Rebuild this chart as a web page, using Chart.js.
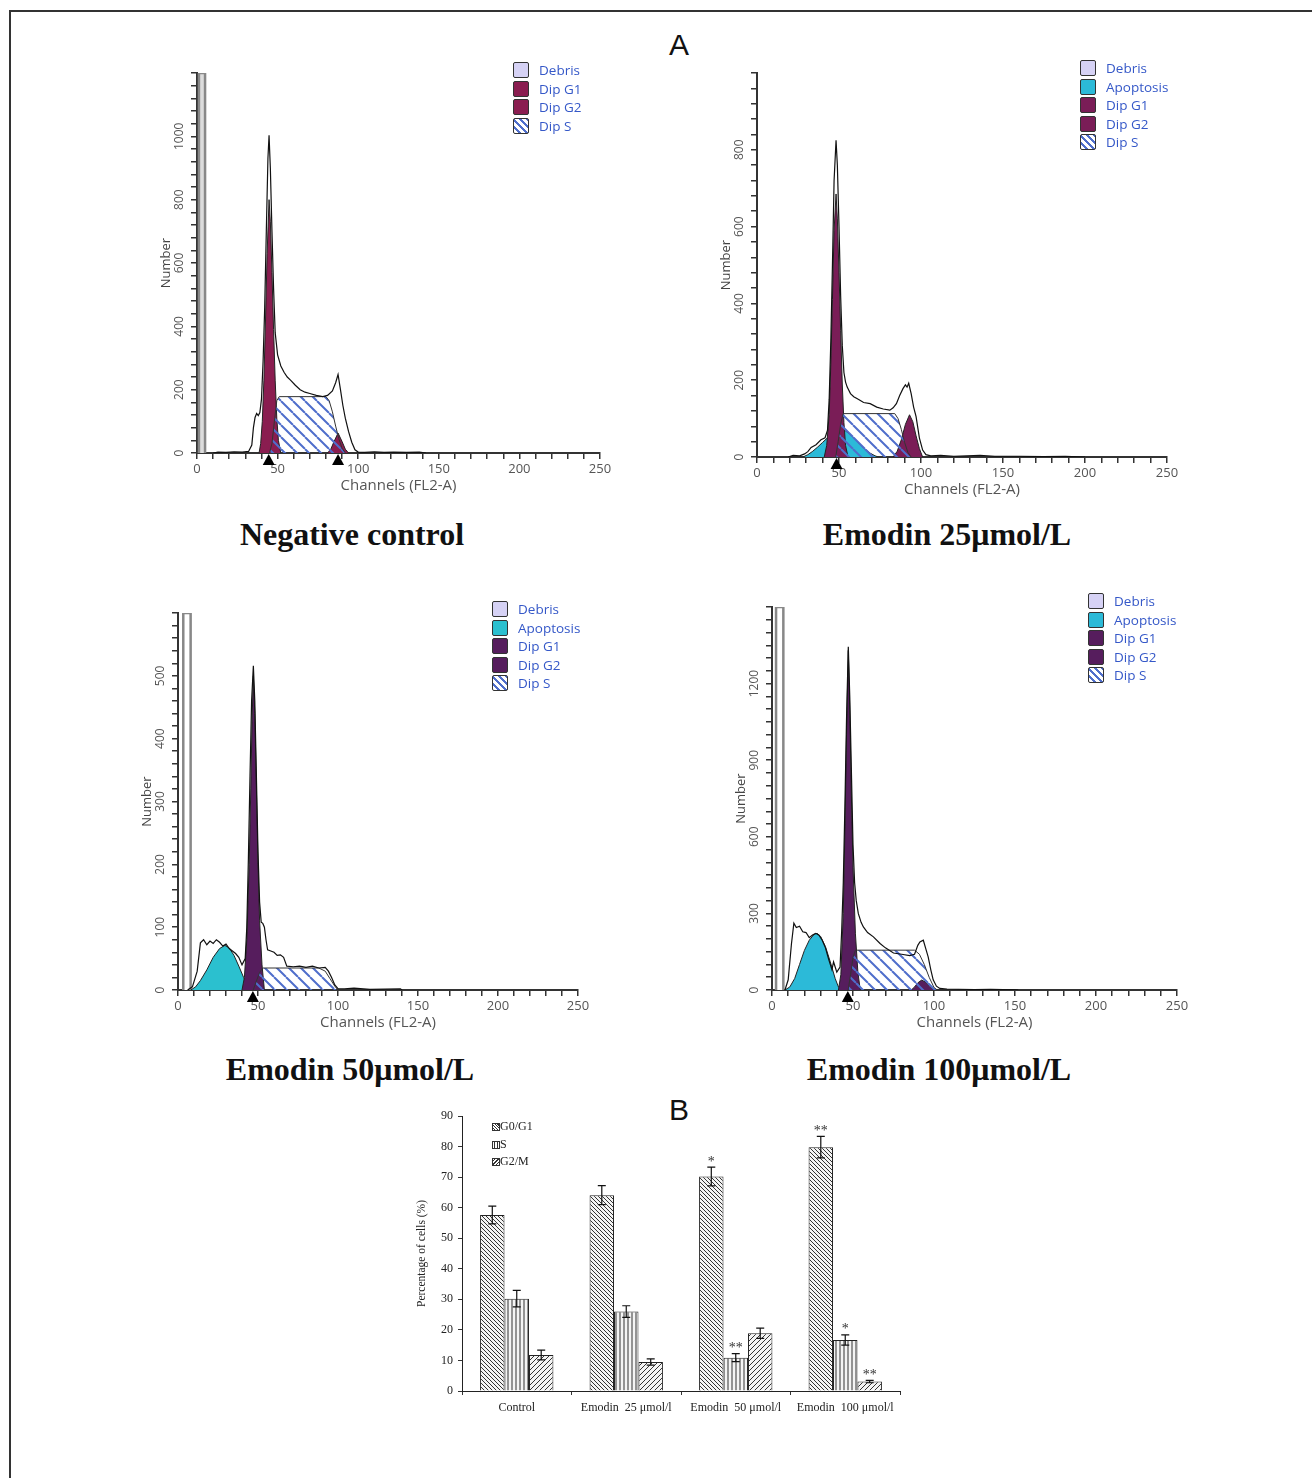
<!DOCTYPE html>
<html>
<head>
<meta charset="utf-8">
<script src="https://cdn.jsdelivr.net/npm/chart.js@4.4.0/dist/chart.umd.min.js"></script>
<style>
    body { margin: 0; background: #fff; }
    #page { position: relative; width: 1312px; height: 1478px; overflow: hidden; background: #fff; }
    .frame { position: absolute; left: 9px; top: 10px; width: 1400px; height: 1600px; border-top: 2px solid #333; border-left: 2px solid #333; }
    canvas { position: absolute; }
    .panel-title { position: absolute; width: 400px; text-align: center; line-height: 34px; font-family: "Liberation Serif", "Times New Roman", serif; font-weight: bold; font-size: 32px; color: #111; }
    .letter { position: absolute; width: 40px; text-align: center; line-height: 34px; font-family: "Liberation Sans", Arial, sans-serif; font-size: 30px; color: #111; }
    .legend { position: absolute; font-family: "Open Sans", sans-serif; font-size: 13.5px; color: #3558c8; }
    .legend .row { position: relative; height: 18.5px; line-height: 18.5px; }
    .legend .box { position: absolute; left: 0; top: 1px; width: 16px; height: 16px; border: 1.5px solid #333; border-radius: 2px; box-sizing: border-box; }
    .legend .lbl { position: absolute; left: 26px; top: 0; white-space: nowrap; }
    .bar-legend { position: absolute; left: 492px; top: 1119px; font-family: "Liberation Serif", serif; font-size: 12px; color: #222; }
    .bar-legend .row { position: relative; height: 17.5px; line-height: 15px; }
    .bar-legend .box { position: absolute; left: 0; top: 4px; width: 6px; height: 6px; border: 1px solid #333; }
    .bar-legend .lbl { position: absolute; left: 8px; top: 0; white-space: nowrap; }
</style>
</head>
<body>
<div id="page">
    <div class="frame"></div>
    <div class="letter" style="left:659px;top:28px;">A</div>
    <div class="letter" style="left:659px;top:1093px;">B</div>

    <canvas id="ctrlChart"></canvas>
    <canvas id="e25Chart"></canvas>
    <canvas id="e50Chart"></canvas>
    <canvas id="e100Chart"></canvas>
    <canvas id="phaseChart"></canvas>

    <div class="panel-title" style="left:152px;top:517px;">Negative control</div>
    <div class="panel-title" style="left:747px;top:517px;">Emodin 25μmol/L</div>
    <div class="panel-title" style="left:150px;top:1052px;">Emodin 50μmol/L</div>
    <div class="panel-title" style="left:739px;top:1052px;">Emodin 100μmol/L</div>

    <div class="legend" id="ctrlLegend" style="left:513px;top:61px;"></div>
    <div class="legend" id="e25Legend" style="left:1080px;top:59px;"></div>
    <div class="legend" id="e50Legend" style="left:492px;top:600px;"></div>
    <div class="legend" id="e100Legend" style="left:1088px;top:592px;"></div>

    <div class="bar-legend">
        <div class="row"><span class="box" style="background:repeating-linear-gradient(45deg,#fff 0 1px,#333 1px 2px);"></span><span class="lbl">G0/G1</span></div>
        <div class="row"><span class="box" style="background:repeating-linear-gradient(90deg,#fff 0 1.5px,#333 1.5px 2.5px);"></span><span class="lbl">S</span></div>
        <div class="row"><span class="box" style="background:repeating-linear-gradient(-45deg,#fff 0 1.5px,#333 1.5px 2.5px);"></span><span class="lbl">G2/M</span></div>
    </div>
</div>

<script>
// ---------- A: гистограммы (канал, число клеток) ----------
const ctrlOutline = [[10,0],[13,3],[18,2],[23,4],[28,3],[32,5],[34,25],[35,80],[36,112],[37,125],[38,118],[39,128],[40,170],[41,290],[42,460],[43,700],[44,930],[44.7,1003],[45.5,900],[46.5,700],[47.5,520],[48.5,380],[50,310],[52,275],[54,255],[56,240],[58,230],[61,214],[64,200],[67,192],[70,188],[74,182],[78,178],[81,182],[84,196],[86,222],[87.5,248],[89,200],[90.5,150],[92,110],[94,68],[96,34],[98,10],[100,3],[104,2],[110,4],[116,2],[122,3],[130,2],[138,3],[142,0]];
const ctrlG1 = [[38.5,0],[39.5,30],[40.5,100],[41.5,230],[42.5,420],[43.5,630],[44.7,800],[45.5,730],[46.5,570],[47.5,390],[48.5,230],[49.5,110],[50.5,40],[52,0]];
const ctrlS = [[45,0],[46.5,30],[48,100],[49.5,165],[51,178],[80,178],[82,165],[84,130],[86,85],[88,45],[90,15],[92,0]];
const ctrlG2 = [[81,0],[83,12],[85,36],[87.5,63],[90,36],[92,12],[94,0]];
const ctrlDebris = [[1.2,0],[1.2,1200],[5,1200],[5,0]];
const ctrlMarkers = [44.5, 87.5];
const ctrlYLabels = [0, 200, 400, 600, 800, 1000];

const e25Outline = [[19,0],[22,4],[26,3],[29,8],[31,14],[33,25],[36,32],[39,45],[41.5,50],[43,70],[44,150],[45,300],[46,500],[47,720],[48.2,825],[49,760],[50,600],[51,420],[52,290],[53,220],[54,195],[55,182],[57,165],[59,157],[62,150],[65,142],[69,139],[73,130],[77,125],[81,122],[83,128],[85,139],[87,160],[89,178],[90.5,188],[91.5,182],[92.5,192],[94,165],[95.5,130],[97,105],[99,50],[101,18],[103,6],[106,3],[112,4],[120,2],[128,3],[136,4],[145,2],[160,2],[175,1],[188,2],[200,0]];
const e25G1 = [[41,0],[42.5,30],[44,110],[45,240],[46,410],[47,590],[48.2,685],[49,620],[50,480],[51,330],[52,190],[53,90],[54,30],[55.5,0]];
const e25Apop = [[28,0],[31,6],[34,15],[37,26],[40,38],[43,50],[46,60],[49,68],[51.5,72],[54,68],[57,58],[60,46],[63,32],[66,20],[69,10],[72,3],[74,0]];
const e25S = [[48,0],[49.5,40],[51,85],[52.5,113],[84,113],[86,100],[88,72],[90,38],[92,12],[94,0]];
const e25G2 = [[83,0],[85.5,15],[88,45],[90.5,85],[93,110],[95,92],[97,55],[99,22],[101,0]];
const e25Markers = [48.5];
const e25YLabels = [0, 200, 400, 600, 800];

const e50Outline = [[6,0],[9,5],[12,30],[14,75],[16,80],[18,72],[20,78],[22,74],[24,80],[26,76],[28,70],[30,73],[32,66],[34,62],[36,58],[38,52],[40,40],[42,50],[43,100],[44,210],[45,340],[46,460],[47.1,516],[48,460],[49,340],[50,220],[51,140],[52,108],[53,106],[54,100],[55,80],[56,64],[58,62],[60,60],[62,55],[64,56],[66,52],[68,38],[72,37],[76,38],[80,36],[84,38],[88,35],[92,36],[94,30],[96,20],[98,8],[100,2],[104,2],[110,3],[120,1],[139,2],[140,0]];
const e50G1 = [[40,0],[41.5,20],[43,80],[44.5,200],[45.5,320],[46.3,430],[47.1,500],[48,440],[49,320],[50,200],[51,110],[52.5,40],[54,0]];
const e50Apop = [[8,0],[11,5],[14,15],[18,32],[22,52],[26,66],[29.3,71],[32,67],[35,55],[38,38],[41,20],[44,7],[47,0]];
const e50S = [[47,0],[49,14],[51,28],[53,35],[88,35],[92,30],[95,18],[98,6],[100,0]];
const e50Debris = [[3.3,0],[3.3,600],[7.9,600],[7.9,0]];
const e50Markers = [46.8];
const e50YLabels = [0, 100, 200, 300, 400, 500];

const e100Outline = [[8,0],[10,40],[12,180],[13.5,262],[15,245],[17,250],[19,228],[21,225],[23,205],[25,215],[27,222],[29,215],[31,195],[33,165],[35,120],[37,80],[38,110],[39,90],[40,70],[42,90],[43,230],[44,420],[45,720],[46,1060],[47.1,1344],[48,1150],[49,860],[50,570],[51,420],[52,350],[53.3,299],[55,265],[56.4,247],[59,225],[62.6,208],[66.7,182],[70,165],[75,145],[80,140],[85,135],[88,140],[90,175],[91.3,188],[93.4,195],[95,160],[96.4,130],[98,80],[99.5,40],[101.5,15],[103.6,6],[108,4],[115,3],[125,2],[135,3],[150,1],[152,0]];
const e100G1 = [[41,0],[42.5,60],[44,300],[45,620],[46,1000],[47.1,1330],[48,1100],[49,760],[50,480],[51.5,220],[53,70],[54.5,0]];
const e100Apop = [[8,0],[11,12],[14,45],[17,100],[20,155],[23,195],[26,218],[27.8,222],[30,210],[33,170],[36,110],[39,45],[41,12],[43,0]];
const e100S = [[47,0],[48.5,60],[50,128],[51.5,156],[88,156],[91,140],[94,100],[97,50],[100,10],[102,0]];
const e100G2 = [[86,0],[88,12],[90,28],[92.4,39],[95,30],[97.5,14],[100,0]];
const e100Debris = [[2.5,0],[2.5,1500],[7,1500],[7,0]];
const e100Markers = [46.8];
const e100YLabels = [0, 300, 600, 900, 1200];

// ---------- B: фазы клеточного цикла, % ----------
const phaseGroups = ['Control', 'Emodin  25 μmol/l', 'Emodin  50 μmol/l', 'Emodin  100 μmol/l'];
const g0g1 = [57.6, 64.1, 70.2, 79.8];
const g0g1Err = [2.9, 3.1, 3.1, 3.5];
const g0g1Stars = ['', '', '*', '**'];
const sPhase = [30.2, 26.0, 10.9, 16.7];
const sPhaseErr = [2.7, 1.9, 1.3, 1.7];
const sPhaseStars = ['', '', '**', '*'];
const g2m = [11.8, 9.5, 18.9, 3.1];
const g2mErr = [1.6, 1.0, 1.7, 0.4];
const g2mStars = ['', '', '', '**'];

const DEBRIS = '#d6d2f5';
const APOP = '#2cbad8';
const HATCH_BLUE = '#4f6ecb';

// Штриховка как CanvasPattern
function makePattern(kind, color, size, lineWidth, bg) {
    const c = document.createElement('canvas');
    c.width = size;
    c.height = size;
    const g = c.getContext('2d');
    if (bg) {
        g.fillStyle = bg;
        g.fillRect(0, 0, size, size);
    }
    g.strokeStyle = color;
    g.lineWidth = lineWidth;
    g.beginPath();
    if (kind === 'vertical') {
        g.moveTo(size / 2, 0);
        g.lineTo(size / 2, size);
    } else {
        for (let k = -1; k <= 1; k++) {
            if (kind === 'back') {
                g.moveTo(k * size, 0);
                g.lineTo(k * size + size, size);
            } else {
                g.moveTo(k * size, size);
                g.lineTo(k * size + size, 0);
            }
        }
    }
    g.stroke();
    return g.createPattern(c, 'repeat');
}

// Легенды гистограмм (HTML)
function renderLegend(id, items) {
    document.getElementById(id).innerHTML = items.map(item => `
        <div class="row"><span class="box" style="background:${item.bg};"></span><span class="lbl">${item.label}</span></div>
    `).join('');
}

const sBoxCss = `repeating-linear-gradient(45deg,#fff 0 3px,${HATCH_BLUE} 3px 5px)`;
renderLegend('ctrlLegend', [
    { label: 'Debris', bg: DEBRIS },
    { label: 'Dip G1', bg: '#8a1d50' },
    { label: 'Dip G2', bg: '#8a1d50' },
    { label: 'Dip S', bg: sBoxCss }
]);
renderLegend('e25Legend', [
    { label: 'Debris', bg: DEBRIS },
    { label: 'Apoptosis', bg: APOP },
    { label: 'Dip G1', bg: '#7a1d57' },
    { label: 'Dip G2', bg: '#7a1d57' },
    { label: 'Dip S', bg: sBoxCss }
]);
renderLegend('e50Legend', [
    { label: 'Debris', bg: DEBRIS },
    { label: 'Apoptosis', bg: '#2bc0cf' },
    { label: 'Dip G1', bg: '#561d5d' },
    { label: 'Dip G2', bg: '#561d5d' },
    { label: 'Dip S', bg: sBoxCss }
]);
renderLegend('e100Legend', [
    { label: 'Debris', bg: DEBRIS },
    { label: 'Apoptosis', bg: APOP },
    { label: 'Dip G1', bg: '#561d5d' },
    { label: 'Dip G2', bg: '#561d5d' },
    { label: 'Dip S', bg: sBoxCss }
]);

// Повёрнутые подписи оси Y, заголовки осей и маркеры пиков
const flowText = {
    id: 'flowText',
    afterDraw(chart, args, opts) {
        const { ctx, chartArea } = chart;
        const x = chart.scales.x;
        const y = chart.scales.y;
        ctx.save();
        ctx.fillStyle = '#555';
        ctx.textAlign = 'center';
        ctx.textBaseline = 'middle';
        ctx.font = '12px "Open Sans"';
        opts.yLabels.forEach(v => {
            ctx.save();
            ctx.translate(chartArea.left - 17, y.getPixelForValue(v));
            ctx.rotate(-Math.PI / 2);
            ctx.fillText(String(v), 0, 0);
            ctx.restore();
        });
        ctx.font = '13px "Open Sans"';
        ctx.fillStyle = '#444';
        ctx.save();
        ctx.translate(chartArea.left - 31, (chartArea.top + chartArea.bottom) / 2);
        ctx.rotate(-Math.PI / 2);
        ctx.fillText('Number', 0, 0);
        ctx.restore();
        ctx.font = '15px "Open Sans"';
        ctx.fillStyle = '#555';
        ctx.fillText('Channels (FL2-A)', x.getPixelForValue(125), chartArea.bottom + 33);
        // треугольники-маркеры пиков
        ctx.fillStyle = '#000';
        opts.markers.forEach(ch => {
            const px = x.getPixelForValue(ch);
            ctx.beginPath();
            ctx.moveTo(px, chartArea.bottom + 1);
            ctx.lineTo(px - 6, chartArea.bottom + 12);
            ctx.lineTo(px + 6, chartArea.bottom + 12);
            ctx.closePath();
            ctx.fill();
        });
        ctx.restore();
    }
};

function areaSet(points, fill, order, extra) {
    return Object.assign({
        data: points.map(p => ({ x: p[0], y: p[1] })),
        backgroundColor: fill,
        borderColor: '#222',
        borderWidth: 1,
        fill: 'origin',
        pointRadius: 0,
        tension: 0,
        order: order
    }, extra || {});
}

// Гистограмма ДНК: положение области графика задаётся явно
function flowChart(id, area, yMax, yStep, datasets, yLabels, markers) {
    const padTop = 20, padRight = 20, yWidth = 60, xHeight = 50;
    const canvas = document.getElementById(id);
    canvas.style.left = (area.l - yWidth) + 'px';
    canvas.style.top = (area.t - padTop) + 'px';
    canvas.width = yWidth + (area.r - area.l) + padRight;
    canvas.height = padTop + (area.b - area.t) + xHeight;

    return new Chart(canvas.getContext('2d'), {
        type: 'line',
        data: { datasets: datasets },
        options: {
            responsive: false,
            animation: false,
            layout: { padding: { top: padTop, right: padRight, left: 0, bottom: 0 } },
            plugins: {
                legend: { display: false },
                tooltip: { enabled: false },
                flowText: { yLabels: yLabels, markers: markers }
            },
            scales: {
                x: {
                    type: 'linear', min: 0, max: 250,
                    afterFit: s => { s.height = xHeight; },
                    ticks: {
                        stepSize: 10, autoSkip: false, maxRotation: 0, minRotation: 0,
                        color: '#555', padding: 2,
                        font: { family: 'Open Sans', size: 13 },
                        callback: v => (v % 50 === 0 ? v : '')
                    },
                    grid: { drawOnChartArea: false, tickLength: 6, color: '#333', lineWidth: 1.5 },
                    border: { color: '#333', width: 2 }
                },
                y: {
                    min: 0, max: yMax,
                    afterFit: s => { s.width = yWidth; },
                    ticks: { display: false, stepSize: yStep },
                    grid: { drawOnChartArea: false, tickLength: 6, color: '#333', lineWidth: 1.5 },
                    border: { color: '#333', width: 2 }
                }
            }
        },
        plugins: [flowText]
    });
}

const sHatch = makePattern('back', HATCH_BLUE, 12, 2, null);
const outlineStyle = { backgroundColor: 'transparent', borderColor: '#111', borderWidth: 1.2, fill: false };

flowChart('ctrlChart', { l: 197, t: 73, r: 600, b: 453 }, 1200, 40, [
    areaSet(ctrlOutline, null, 0, outlineStyle),
    areaSet(ctrlS, sHatch, 1, { borderColor: '#333' }),
    areaSet(ctrlG1, '#8a1d50', 2),
    areaSet(ctrlG2, '#8a1d50', 3),
    areaSet(ctrlDebris, '#dcdcdc', 5, { borderColor: '#888', borderWidth: 2.5 })
], ctrlYLabels, ctrlMarkers);

flowChart('e25Chart', { l: 757, t: 73, r: 1167, b: 457 }, 1000, 40, [
    areaSet(e25Outline, null, 0, outlineStyle),
    areaSet(e25S, sHatch, 1, { borderColor: '#333' }),
    areaSet(e25G1, '#7a1d57', 2),
    areaSet(e25G2, '#7a1d57', 3),
    areaSet(e25Apop, APOP, 4)
], e25YLabels, e25Markers);

flowChart('e50Chart', { l: 178, t: 613, r: 578, b: 990 }, 600, 20, [
    areaSet(e50Outline, null, 0, outlineStyle),
    areaSet(e50S, sHatch, 1, { borderColor: '#333' }),
    areaSet(e50G1, '#561d5d', 2),
    areaSet(e50Apop, '#2bc0cf', 4),
    areaSet(e50Debris, '#fff', 5, { borderColor: '#888', borderWidth: 2.5 })
], e50YLabels, e50Markers);

flowChart('e100Chart', { l: 772, t: 607, r: 1177, b: 990 }, 1500, 50, [
    areaSet(e100Outline, null, 0, outlineStyle),
    areaSet(e100S, sHatch, 1, { borderColor: '#333' }),
    areaSet(e100G1, '#561d5d', 2),
    areaSet(e100G2, '#561d5d', 3),
    areaSet(e100Apop, APOP, 4),
    areaSet(e100Debris, '#fff', 5, { borderColor: '#888', borderWidth: 2.5 })
], e100YLabels, e100Markers);

// Планки погрешностей и звёздочки значимости
const errorBars = {
    id: 'errorBars',
    afterDatasetsDraw(chart) {
        const { ctx } = chart;
        const y = chart.scales.y;
        ctx.save();
        ctx.strokeStyle = '#111';
        ctx.lineWidth = 1.2;
        ctx.fillStyle = '#333';
        ctx.font = '14px "Liberation Serif"';
        ctx.textAlign = 'center';
        ctx.textBaseline = 'bottom';
        chart.data.datasets.forEach((ds, di) => {
            chart.getDatasetMeta(di).data.forEach((bar, i) => {
                const top = y.getPixelForValue(ds.data[i] + ds.errors[i]);
                const bot = y.getPixelForValue(ds.data[i] - ds.errors[i]);
                ctx.beginPath();
                ctx.moveTo(bar.x, top);
                ctx.lineTo(bar.x, bot);
                ctx.moveTo(bar.x - 4, top);
                ctx.lineTo(bar.x + 4, top);
                ctx.moveTo(bar.x - 4, bot);
                ctx.lineTo(bar.x + 4, bot);
                ctx.stroke();
                if (ds.stars[i]) {
                    ctx.fillText(ds.stars[i], bar.x, top + 2);
                }
            });
        });
        ctx.restore();
    }
};

// Подпись оси Y для диаграммы B
const phaseTitle = {
    id: 'phaseTitle',
    afterDraw(chart) {
        const { ctx, chartArea } = chart;
        ctx.save();
        ctx.fillStyle = '#222';
        ctx.font = '11.5px "Liberation Serif"';
        ctx.textAlign = 'center';
        ctx.textBaseline = 'middle';
        ctx.translate(chartArea.left - 40, (chartArea.top + chartArea.bottom) / 2);
        ctx.rotate(-Math.PI / 2);
        ctx.fillText('Percentage of cells (%)', 0, 0);
        ctx.restore();
    }
};

(function renderPhaseChart() {
    const area = { l: 462, t: 1116, r: 900, b: 1391 };
    const padTop = 16, padRight = 20, yWidth = 72, xHeight = 40;
    const canvas = document.getElementById('phaseChart');
    canvas.style.left = (area.l - yWidth) + 'px';
    canvas.style.top = (area.t - padTop) + 'px';
    canvas.width = yWidth + (area.r - area.l) + padRight;
    canvas.height = padTop + (area.b - area.t) + xHeight;

    const barCommon = { borderColor: '#222', borderWidth: 1, barPercentage: 1, categoryPercentage: 0.67 };
    new Chart(canvas.getContext('2d'), {
        type: 'bar',
        data: {
            labels: phaseGroups,
            datasets: [
                Object.assign({ label: 'G0/G1', data: g0g1, errors: g0g1Err, stars: g0g1Stars,
                    backgroundColor: makePattern('back', '#333', 4, 1, '#f4f4f4') }, barCommon),
                Object.assign({ label: 'S', data: sPhase, errors: sPhaseErr, stars: sPhaseStars,
                    backgroundColor: makePattern('vertical', '#333', 4, 1, '#f4f4f4') }, barCommon),
                Object.assign({ label: 'G2/M', data: g2m, errors: g2mErr, stars: g2mStars,
                    backgroundColor: makePattern('fwd', '#333', 5, 1, '#f4f4f4') }, barCommon)
            ]
        },
        options: {
            responsive: false,
            animation: false,
            layout: { padding: { top: padTop, right: padRight, left: 0, bottom: 0 } },
            plugins: { legend: { display: false }, tooltip: { enabled: false } },
            scales: {
                x: {
                    afterFit: s => { s.height = xHeight; },
                    ticks: { color: '#222', padding: 6, maxRotation: 0, font: { family: 'Liberation Serif', size: 12 } },
                    grid: { drawOnChartArea: false, tickLength: 4, color: '#333' },
                    border: { color: '#222', width: 1 }
                },
                y: {
                    min: 0, max: 90,
                    afterFit: s => { s.width = yWidth; },
                    ticks: { stepSize: 10, color: '#222', padding: 5, font: { family: 'Liberation Serif', size: 12 } },
                    grid: { drawOnChartArea: false, tickLength: 4, color: '#333' },
                    border: { color: '#222', width: 1 }
                }
            }
        },
        plugins: [errorBars, phaseTitle]
    });
})();
</script>
</body>
</html>
